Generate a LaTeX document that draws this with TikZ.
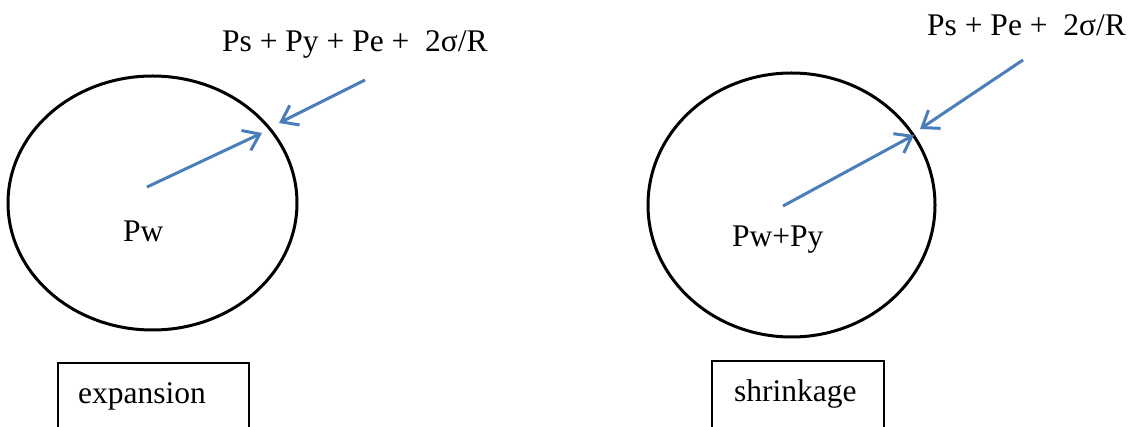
\documentclass[tikz,border=0pt]{standalone}
\usepackage{fontspec}
\setmainfont{Liberation Serif}
\usetikzlibrary{shapes.geometric,arrows.meta}
\definecolor{arrowblue}{RGB}{74,126,187}
\tikzset{
  x=1pt,y=1pt,
  every node/.style={font=\fontsize{31.5}{38}\selectfont},
  bubble/.style={draw=black,line width=3pt,ellipse,inner sep=0pt},
  txt/.style={anchor=base west,inner sep=0pt},
  labelbox/.style={draw=black,line width=2.2pt,anchor=north west,inner ysep=0pt,
    text height=40pt,text depth=60pt,align=left},
  push/.style={draw=arrowblue,line width=3pt,-{Straight Barb[length=15pt,width=22pt]}}
}
\begin{document}
\begin{tikzpicture}
\useasboundingbox (0,0) rectangle (1133,426);
% left: expansion
\node[bubble,minimum width=289pt,minimum height=254pt] (L) at (152.5,223) {};
\node[txt] (Lpw) at (123,184) {Pw};
\node[txt] (Leq) at (222,374) {Ps + Py + Pe +\ \ 2σ/R};
\coordinate (Lin) at (147,239);
\coordinate (Lout) at (262,293);
\coordinate (Lsrc) at (365,346);
\coordinate (Ltip) at (279,303);
\draw[push] (Lin) -- (Lout);
\draw[push] (Lsrc) -- (Ltip);
\node[labelbox,inner xsep=20pt,text width=151pt] (Lbox) at (57,64) {expansion};
% right: shrinkage
\node[bubble,minimum width=287pt,minimum height=264pt] (R) at (791.5,221) {};
\node[txt] (Rpw) at (732,179) {Pw+Py};
\node[txt] (Req) at (927,390) {Ps + Pe +\ \ 2σ/R};
\coordinate (Rin) at (783,220);
\coordinate (Rout) at (914,291);
\coordinate (Rsrc) at (1023,366);
\coordinate (Rtip) at (920,297);
\draw[push] (Rin) -- (Rout);
\draw[push] (Rsrc) -- (Rtip);
\node[labelbox,inner xsep=22pt,text width=128pt] (Rbox) at (711,66) {shrinkage};
\end{tikzpicture}
\end{document}
